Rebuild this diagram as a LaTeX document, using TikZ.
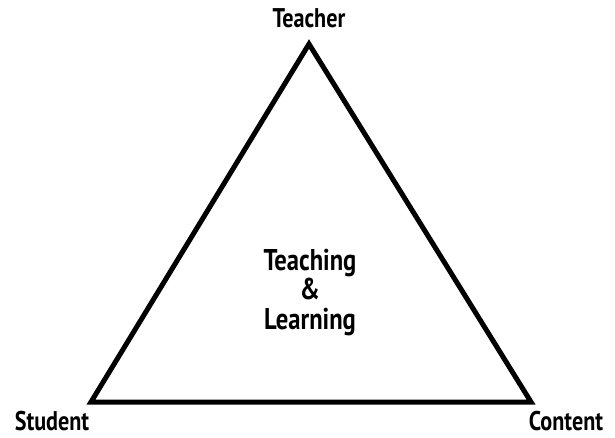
\documentclass[tikz,border=0pt]{standalone}
\usepackage{fontspec}
\setmainfont{PT Sans}[FakeStretch=0.82]
\begin{document}
\begin{tikzpicture}[x=1pt,y=-1pt,
  lbl/.style={font=\bfseries\fontsize{27}{29}\selectfont, inner sep=0pt, anchor=base},
  ctr/.style={font=\bfseries\fontsize{30}{30}\selectfont, inner sep=0pt, anchor=base, text=black},
  tri/.style={line width=5pt, line join=miter}]
\useasboundingbox (0,0) rectangle (615,438);
\coordinate (A) at (309,44);
\coordinate (B) at (91,402);
\coordinate (C) at (531,402);
\draw[tri] (A) -- (B) -- (C) -- cycle;
\node[lbl] (teacher) at (309,28) {Teacher};
\node[lbl] (student) at (52,430) {Student};
\node[lbl] (content) at (566,430) {Content};
\node[ctr] (t1) at (310,270) {Teaching};
\node[ctr] (t2) at (310,299) {\&};
\node[ctr] (t3) at (310,329) {Learning};
\end{tikzpicture}
\end{document}
